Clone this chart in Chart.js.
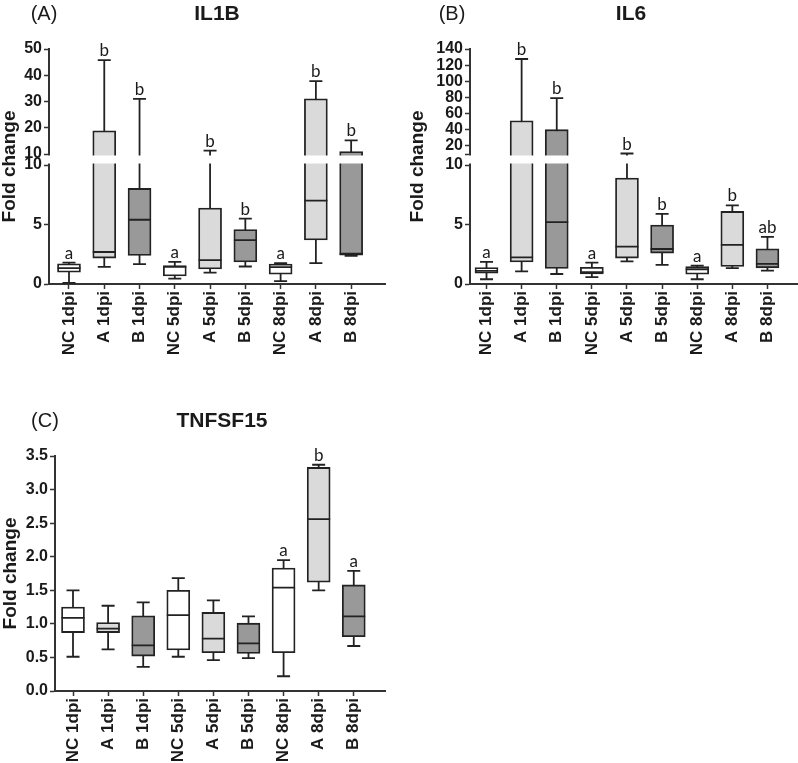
<!DOCTYPE html>
<html>
<head>
<meta charset="utf-8">
<script src="https://cdn.jsdelivr.net/npm/chart.js@4.4.1/dist/chart.umd.min.js"></script>
<style>
    body { margin: 0; background: #fff; }
    #wrap { position: relative; width: 798px; height: 763px; overflow: hidden; font-family: "Liberation Sans", Arial, sans-serif; color: #1a1a1a; }
    canvas { position: absolute; }
    .lbl { position: absolute; transform: translate(-50%, -50%); white-space: nowrap; line-height: 1; }
    .tag { font-size: 20px; }
    .gene { font-size: 21px; font-weight: bold; }
</style>
</head>
<body>
<div id="wrap">
    <canvas id="chartA" width="400" height="380" style="left:0;top:0"></canvas>
    <canvas id="chartB" width="398" height="380" style="left:400px;top:0"></canvas>
    <canvas id="chartC" width="400" height="383" style="left:0;top:380px"></canvas>
    <div class="lbl tag" style="left:44px;top:13px">(A)</div>
    <div class="lbl gene" style="left:217px;top:12px">IL1B</div>
    <div class="lbl tag" style="left:452px;top:13px">(B)</div>
    <div class="lbl gene" style="left:631px;top:12px">IL6</div>
    <div class="lbl tag" style="left:45px;top:420px">(C)</div>
    <div class="lbl gene" style="left:222px;top:419px">TNFSF15</div>
</div>
<script>
// Groups
const categories = ['NC 1dpi', 'A 1dpi', 'B 1dpi', 'NC 5dpi', 'A 5dpi', 'B 5dpi', 'NC 8dpi', 'A 8dpi', 'B 8dpi'];

// IL1B box statistics
const il1bMin = [0.1, 1.44, 1.67, 0.45, 0.96, 1.47, 0.25, 1.75, 2.37];
const il1bQ1 = [1.0, 2.18, 2.4, 0.68, 1.27, 1.86, 0.82, 3.7, 2.43];
const il1bMed = [1.33, 2.69, 5.4, 1.44, 2.0, 3.68, 1.41, 7.0, 2.54];
const il1bQ3 = [1.69, 18.8, 8.03, 1.55, 6.39, 4.58, 1.67, 31.0, 10.9];
const il1bMax = [1.8, 45.8, 31.0, 1.86, 11.26, 5.5, 1.75, 37.8, 15.2];
const il1bLetters = ['a', 'b', 'b', 'a', 'b', 'b', 'a', 'b', 'b'];
const il1bTicksLow = [0, 5, 10];
const il1bTicksHigh = [10, 20, 30, 40, 50];
const il1bTickLabels = ['0', '5', '10', '10', '20', '30', '40', '50'];

// IL6 box statistics
const il6Min = [0.4, 1.06, 0.84, 0.57, 1.9, 1.61, 0.4, 1.33, 1.13];
const il6Q1 = [0.9, 1.86, 1.3, 0.85, 2.18, 2.6, 0.82, 1.47, 1.36];
const il6Med = [1.1, 2.23, 5.2, 0.99, 3.14, 2.94, 1.24, 3.28, 1.69];
const il6Q3 = [1.38, 51.2, 40.1, 1.41, 8.9, 4.95, 1.47, 6.1, 2.95];
const il6Max = [1.86, 127.6, 79.3, 1.8, 10.6, 5.9, 1.55, 6.6, 3.96];
const il6Letters = ['a', 'b', 'b', 'a', 'b', 'b', 'a', 'b', 'ab'];
const il6TicksLow = [0, 5, 10];
const il6TicksHigh = [10, 20, 40, 60, 80, 100, 120, 140];
const il6TickLabels = ['0', '5', '10', '', '20', '40', '60', '80', '100', '120', '140'];

// TNFSF15 box statistics
const tnfMin = [0.51, 0.62, 0.36, 0.51, 0.46, 0.49, 0.22, 1.5, 0.67];
const tnfQ1 = [0.87, 0.87, 0.52, 0.61, 0.57, 0.56, 0.57, 1.62, 0.81];
const tnfMed = [1.09, 0.93, 0.68, 1.13, 0.78, 0.71, 1.54, 2.56, 1.11];
const tnfQ3 = [1.25, 1.02, 1.12, 1.5, 1.17, 1.01, 1.83, 3.33, 1.58];
const tnfMax = [1.5, 1.27, 1.32, 1.68, 1.35, 1.11, 1.95, 3.37, 1.79];
const tnfLetters = ['', '', '', '', '', '', 'a', 'b', 'a'];
const tnfTicks = [0, 0.5, 1.0, 1.5, 2.0, 2.5, 3.0, 3.5];
const tnfTickLabels = ['0.0', '0.5', '1.0', '1.5', '2.0', '2.5', '3.0', '3.5'];

// Styles
const fills = ['#ffffff', '#dadada', '#999999', '#ffffff', '#dadada', '#999999', '#ffffff', '#dadada', '#999999'];
const ink = '#222222';
const axisInk = '#333333';
const lineW = 1.8;

// Broken axis: lower segment 0..119, gap, upper segment 130..235 (display units)
const SPAN = 235, LOW_TOP = 119, HIGH_BOT = 130;
function brokenMap(lowMax, highMin, highMax) {
    return v => v <= lowMax
        ? v / lowMax * LOW_TOP
        : HIGH_BOT + (v - highMin) / (highMax - highMin) * (SPAN - HIGH_BOT);
}

function boxPlugin(s, map, letters, broken) {
    return {
        id: 'boxes',
        beforeDatasetsDraw(chart) {
            const ctx = chart.ctx, x = chart.scales.x, y = chart.scales.y;
            ctx.save();
            ctx.strokeStyle = ink;
            ctx.lineWidth = lineW;
            categories.forEach((c, i) => {
                const px = x.getPixelForValue(i + 1);
                ctx.beginPath();
                ctx.moveTo(px, y.getPixelForValue(map(s.min[i])));
                ctx.lineTo(px, y.getPixelForValue(map(s.max[i])));
                ctx.stroke();
            });
            ctx.restore();
        },
        afterDatasetsDraw(chart) {
            const ctx = chart.ctx, x = chart.scales.x, y = chart.scales.y;
            ctx.save();
            ctx.strokeStyle = ink;
            ctx.lineWidth = lineW;
            categories.forEach((c, i) => {
                const px = x.getPixelForValue(i + 1);
                const pm = y.getPixelForValue(map(s.med[i]));
                ctx.beginPath();
                ctx.moveTo(px - 11.5, pm); ctx.lineTo(px + 11.5, pm);
                [s.min[i], s.max[i]].forEach(v => {
                    const pv = y.getPixelForValue(map(v));
                    ctx.moveTo(px - 6.5, pv); ctx.lineTo(px + 6.5, pv);
                });
                ctx.stroke();
            });
            if (broken) {
                const yTop = y.getPixelForValue(HIGH_BOT) + 1.5;
                const yBot = y.getPixelForValue(LOW_TOP) - 1.5;
                ctx.fillStyle = '#ffffff';
                ctx.fillRect(chart.chartArea.left - 1.5, yTop, chart.chartArea.right - chart.chartArea.left + 2, yBot - yTop);
            }
            ctx.fillStyle = '#1a1a1a';
            ctx.font = '17px Lato, "Open Sans", sans-serif';
            ctx.textAlign = 'center';
            ctx.textBaseline = 'alphabetic';
            categories.forEach((c, i) => {
                if (!letters[i]) return;
                ctx.fillText(letters[i], x.getPixelForValue(i + 1), y.getPixelForValue(map(s.max[i])) - 4);
            });
            ctx.restore();
        }
    };
}

function makePanel(id, p) {
    const map = p.map;
    return new Chart(document.getElementById(id), {
        type: 'bar',
        data: {
            datasets: [{
                data: categories.map((c, i) => ({ x: i + 1, y: [map(p.stats.q1[i]), map(p.stats.q3[i])] })),
                backgroundColor: fills,
                borderColor: ink,
                borderWidth: lineW,
                borderSkipped: false,
                barThickness: 23,
                grouped: false
            }]
        },
        options: {
            responsive: false,
            animation: false,
            layout: { padding: { top: p.top, right: p.right, bottom: 0, left: 0 } },
            plugins: { legend: { display: false }, tooltip: { enabled: false } },
            scales: {
                x: {
                    type: 'linear',
                    min: p.xMin,
                    max: p.xMax,
                    offset: false,
                    afterBuildTicks: s => { s.ticks = categories.map((c, i) => ({ value: i + 1 })); },
                    afterFit: s => { s.height = p.xH; },
                    ticks: {
                        autoSkip: false, minRotation: 90, maxRotation: 90, padding: 2,
                        color: '#1a1a1a',
                        font: { family: '"Liberation Sans", Arial', size: 17, weight: 'bold' },
                        callback: (v, i) => categories[i]
                    },
                    grid: { offset: false, drawOnChartArea: false, tickLength: 5, tickWidth: 1.5, tickColor: axisInk },
                    border: { display: true, color: axisInk, width: 2 }
                },
                y: {
                    type: 'linear',
                    min: p.yMin,
                    max: p.yMax,
                    afterBuildTicks: s => { s.ticks = p.ticks.map(v => ({ value: v })); },
                    afterFit: s => { s.width = p.yW; },
                    ticks: {
                        autoSkip: false, padding: 2,
                        color: '#1a1a1a',
                        font: { family: '"Liberation Sans", Arial', size: 16, weight: 'bold' },
                        callback: (v, i) => p.tickLabels[i]
                    },
                    grid: { drawOnChartArea: false, tickLength: 5, tickWidth: 1.5, tickColor: axisInk },
                    border: { display: true, color: axisInk, width: 2 },
                    title: {
                        display: true, text: 'Fold change', color: '#1a1a1a',
                        font: { family: '"Liberation Sans", Arial', size: 19, weight: 'bold', lineHeight: 1 },
                        padding: { top: p.titlePad, bottom: 0 }
                    }
                }
            }
        },
        plugins: [boxPlugin(p.stats, map, p.letters, p.broken)]
    });
}

const mapA = brokenMap(10, 10, 50);
makePanel('chartA', {
    map: mapA, broken: true,
    stats: { min: il1bMin, q1: il1bQ1, med: il1bMed, q3: il1bQ3, max: il1bMax },
    letters: il1bLetters,
    ticks: il1bTicksLow.concat(il1bTicksHigh).map((v, i) => i < il1bTicksLow.length ? mapA(v) : mapA(v) + (v === 10 ? HIGH_BOT - LOW_TOP : 0)),
    tickLabels: il1bTickLabels,
    yMin: 0, yMax: SPAN, top: 49, right: 15, yW: 49, xH: 96, titlePad: 0,
    xMin: 0.433, xMax: 9.96
});

const mapB = brokenMap(10, 10, 140);
makePanel('chartB', {
    map: mapB, broken: true,
    stats: { min: il6Min, q1: il6Q1, med: il6Med, q3: il6Q3, max: il6Max },
    letters: il6Letters,
    ticks: il6TicksLow.concat(il6TicksHigh).map((v, i) => i < il6TicksLow.length ? mapB(v) : mapB(v) + (v === 10 ? HIGH_BOT - LOW_TOP : 0)),
    tickLabels: il6TickLabels,
    yMin: 0, yMax: SPAN, top: 49, right: 0, yW: 70, xH: 96, titlePad: 8,
    xMin: 0.53, xMax: 9.87
});

makePanel('chartC', {
    map: v => v, broken: false,
    stats: { min: tnfMin, q1: tnfQ1, med: tnfMed, q3: tnfQ3, max: tnfMax },
    letters: tnfLetters,
    ticks: tnfTicks,
    tickLabels: tnfTickLabels,
    yMin: 0, yMax: 3.5, top: 76, right: 15, yW: 55, xH: 72, titlePad: 1,
    xMin: 0.487, xMax: 9.89
});
</script>
</body>
</html>
